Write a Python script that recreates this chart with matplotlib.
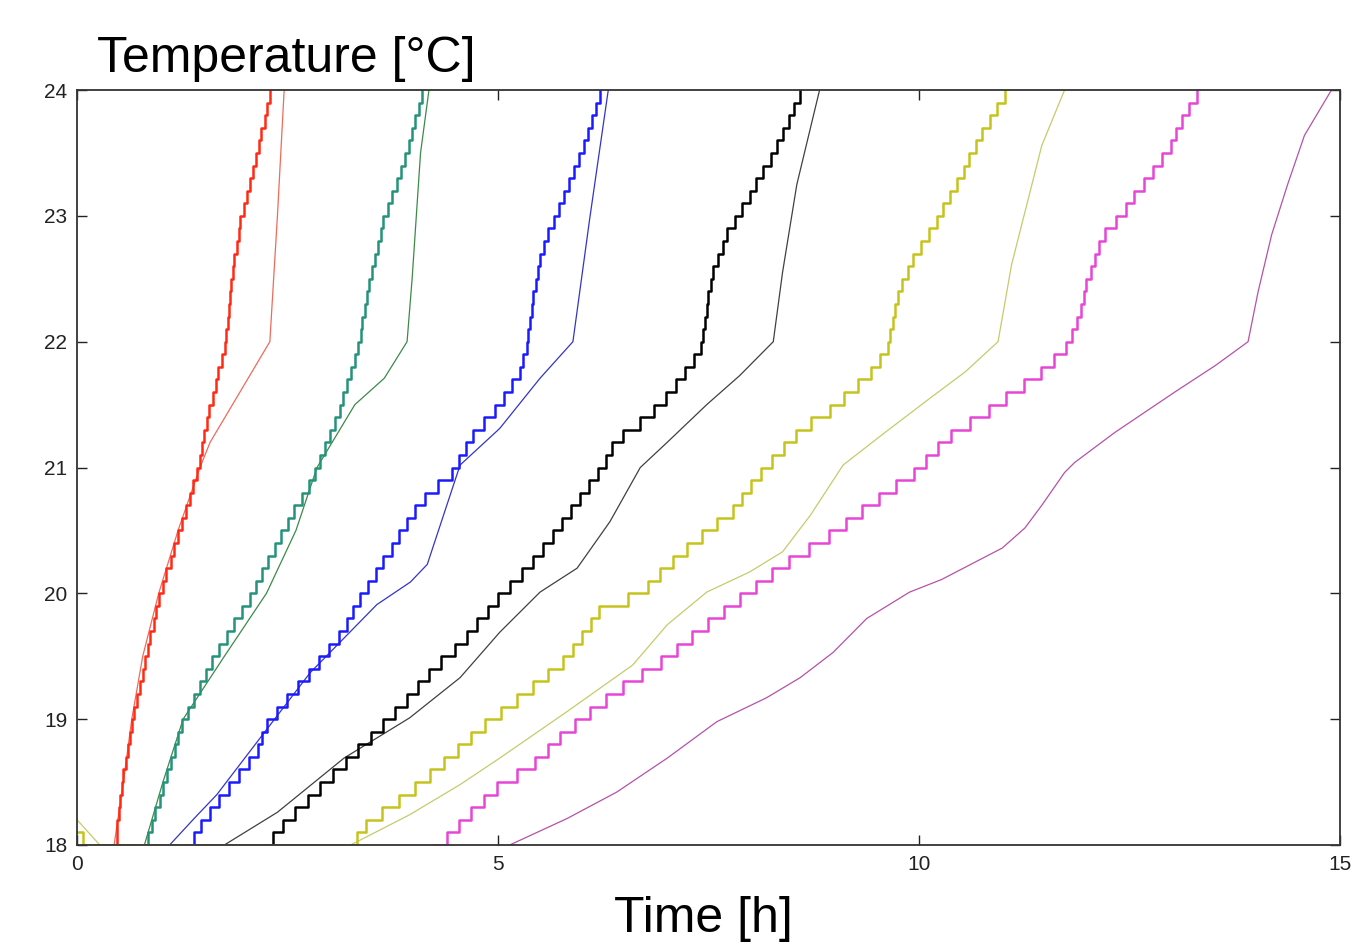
import matplotlib
matplotlib.use("Agg")
import matplotlib.pyplot as plt

plt.rcParams['font.family'] = ['Liberation Sans', 'DejaVu Sans']

# quantised sensor levels used by the measured (stepped) curves
temp_levels = [18.0, 18.1, 18.2, 18.3, 18.4, 18.5, 18.6, 18.7, 18.8, 18.9,
               19.0, 19.1, 19.2, 19.3, 19.4, 19.5, 19.6, 19.7, 19.8, 19.9,
               20.0, 20.1, 20.2, 20.3, 20.4, 20.5, 20.6, 20.7, 20.8, 20.9,
               21.0, 21.1, 21.2, 21.3, 21.4, 21.5, 21.6, 21.7, 21.8, 21.9,
               22.0, 22.1, 22.2, 22.3, 22.4, 22.5, 22.6, 22.7, 22.8, 22.9,
               23.0, 23.1, 23.2, 23.3, 23.4, 23.5, 23.6, 23.7, 23.8, 23.9,
               24.0]

# measured: time [h] at which each level above is reached
red_meas = [0.45, 0.47, 0.48, 0.50, 0.51, 0.53, 0.55, 0.58, 0.60, 0.63,
            0.65, 0.68, 0.71, 0.75, 0.78, 0.81, 0.84, 0.87, 0.91, 0.94,
            0.97, 1.02, 1.06, 1.11, 1.15, 1.20, 1.25, 1.29, 1.34, 1.38,
            1.43, 1.46, 1.49, 1.51, 1.54, 1.57, 1.61, 1.65, 1.68, 1.72,
            1.76, 1.77, 1.79, 1.80, 1.82, 1.83, 1.85, 1.87, 1.90, 1.92,
            1.94, 1.98, 2.02, 2.05, 2.09, 2.13, 2.16, 2.19, 2.23, 2.26,
            2.29]
green_meas = [0.80, 0.84, 0.89, 0.93, 0.98, 1.02, 1.07, 1.11, 1.16, 1.20,
              1.25, 1.32, 1.39, 1.46, 1.53, 1.60, 1.69, 1.78, 1.87, 1.96,
              2.05, 2.12, 2.20, 2.27, 2.35, 2.42, 2.50, 2.58, 2.67, 2.75,
              2.83, 2.89, 2.95, 3.00, 3.06, 3.12, 3.16, 3.21, 3.25, 3.30,
              3.34, 3.37, 3.39, 3.42, 3.44, 3.47, 3.50, 3.54, 3.57, 3.61,
              3.64, 3.69, 3.74, 3.80, 3.85, 3.90, 3.94, 3.98, 4.02, 4.06,
              4.10]
blue_meas = [1.33, 1.39, 1.47, 1.58, 1.69, 1.81, 1.92, 2.04, 2.15, 2.20,
             2.26, 2.38, 2.49, 2.62, 2.75, 2.87, 2.99, 3.11, 3.21, 3.28,
             3.36, 3.45, 3.55, 3.64, 3.74, 3.83, 3.92, 4.01, 4.13, 4.29,
             4.45, 4.54, 4.62, 4.70, 4.83, 4.96, 5.07, 5.17, 5.26, 5.30,
             5.34, 5.36, 5.38, 5.40, 5.42, 5.45, 5.47, 5.50, 5.55, 5.60,
             5.66, 5.72, 5.78, 5.84, 5.90, 5.96, 6.02, 6.07, 6.12, 6.16,
             6.21]
black_meas = [2.22, 2.33, 2.45, 2.59, 2.74, 2.89, 3.04, 3.19, 3.34, 3.49,
              3.63, 3.78, 3.92, 4.05, 4.18, 4.32, 4.49, 4.63, 4.75, 4.88,
              5.00, 5.14, 5.28, 5.42, 5.53, 5.65, 5.76, 5.87, 5.98, 6.08,
              6.19, 6.28, 6.36, 6.49, 6.69, 6.85, 6.99, 7.12, 7.22, 7.33,
              7.41, 7.43, 7.46, 7.48, 7.50, 7.53, 7.56, 7.61, 7.67, 7.72,
              7.81, 7.90, 7.99, 8.07, 8.15, 8.24, 8.32, 8.39, 8.46, 8.52,
              8.59]
yellow_meas = [3.21, 3.32, 3.43, 3.62, 3.82, 4.01, 4.19, 4.36, 4.52, 4.68,
               4.85, 5.03, 5.23, 5.42, 5.59, 5.77, 5.89, 6.00, 6.10, 6.20,
               6.54, 6.78, 6.93, 7.08, 7.25, 7.42, 7.60, 7.79, 7.90, 8.01,
               8.12, 8.26, 8.40, 8.54, 8.72, 8.94, 9.11, 9.28, 9.43, 9.54,
               9.63, 9.66, 9.69, 9.72, 9.75, 9.80, 9.87, 9.93, 10.02, 10.12,
               10.21, 10.29, 10.37, 10.45, 10.53, 10.60, 10.68, 10.75, 10.84, 10.93,
               11.02]
magenta_meas = [4.24, 4.39, 4.54, 4.68, 4.83, 4.99, 5.22, 5.44, 5.59, 5.74,
                5.91, 6.09, 6.28, 6.49, 6.71, 6.94, 7.13, 7.31, 7.49, 7.68,
                7.87, 8.06, 8.25, 8.46, 8.69, 8.93, 9.13, 9.32, 9.52, 9.73,
                9.94, 10.09, 10.23, 10.38, 10.61, 10.83, 11.04, 11.25, 11.45, 11.61,
                11.75, 11.82, 11.88, 11.92, 11.96, 11.99, 12.04, 12.09, 12.14, 12.21,
                12.34, 12.46, 12.56, 12.67, 12.78, 12.89, 12.99, 13.05, 13.12, 13.21,
                13.30]

# the yellow room starts slightly warm at t = 0
yellow_start_t = [0.0, 0.07]
yellow_start_T = [18.1, 18.0]

# simulated curves (time [h], temperature [C])
red_sim_t = [0.44, 0.55, 0.65, 0.78, 0.97, 1.2, 1.46, 1.58, 2.29, 2.38, 2.46]
red_sim_T = [18.0, 18.5, 19.0, 19.5, 20.0, 20.5, 21.0, 21.2, 22.0, 23.0, 24.0]
green_sim_t = [0.80, 1.02, 1.26, 1.75, 2.25, 2.6, 2.85, 3.3, 3.65, 3.92, 3.98, 4.03, 4.08, 4.18]
green_sim_T = [18.0, 18.5, 19.0, 19.5, 20.0, 20.5, 21.0, 21.5, 21.71, 22.0, 22.5, 23.0, 23.5, 24.0]
blue_sim_t = [1.10, 1.39, 1.66, 2.14, 2.77, 3.56, 3.96, 4.16, 4.55, 5.02, 5.5, 5.89, 6.09, 6.31]
blue_sim_T = [18.0, 18.21, 18.4, 18.82, 19.37, 19.91, 20.09, 20.23, 21.02, 21.31, 21.71, 22.0, 22.98, 24.0]
black_sim_t = [1.75, 2.38, 3.17, 3.95, 4.55, 5.02, 5.5, 5.94, 6.33, 6.69, 7.01, 7.48, 7.87, 8.27,
               8.38, 8.55, 8.82]
black_sim_T = [18.0, 18.26, 18.69, 19.01, 19.33, 19.69, 20.01, 20.2, 20.57, 21.0, 21.2, 21.5, 21.73,
               22.0, 22.55, 23.25, 24.0]
yellow_sim_t = [0.0, 0.27, 3.25, 3.95, 4.55, 5.02, 5.82, 6.6, 7.01, 7.48, 7.99, 8.38, 8.71, 9.10,
                9.6, 10.13, 10.55, 10.94, 11.1, 11.46, 11.73]
yellow_sim_T = [18.2, 18.0, 18.0, 18.24, 18.48, 18.69, 19.06, 19.43, 19.75, 20.01, 20.17, 20.33,
                20.62, 21.02, 21.28, 21.55, 21.76, 22.0, 22.61, 23.56, 24.0]
magenta_sim_t = [5.14, 5.82, 6.41, 7.01, 7.60, 8.19, 8.59, 8.98, 9.38, 9.89, 10.27, 10.99, 11.26,
                 11.46, 11.73, 11.85, 12.33, 13.04, 13.52, 13.91, 14.03, 14.19, 14.38, 14.58, 14.90]
magenta_sim_T = [18.0, 18.21, 18.42, 18.69, 18.98, 19.17, 19.33, 19.53, 19.80, 20.01, 20.11, 20.36,
                 20.52, 20.70, 20.96, 21.04, 21.28, 21.60, 21.81, 22.0, 22.4, 22.85, 23.25, 23.64, 24.0]

x_ticks = [0, 5, 10, 15]
y_ticks = [18, 19, 20, 21, 22, 23, 24]


fig = plt.figure(figsize=(13.52, 9.46), dpi=100)
ax = fig.add_axes([0.057, 0.1068, 0.934, 0.798])

# simulated (thin)
ax.plot(red_sim_t, red_sim_T, color='#f06a5a', lw=0.9)
ax.plot(green_sim_t, green_sim_T, color='#3c8a48', lw=0.9)
ax.plot(blue_sim_t, blue_sim_T, color='#3434c8', lw=0.9)
ax.plot(black_sim_t, black_sim_T, color='#404040', lw=0.9)
ax.plot(yellow_sim_t, yellow_sim_T, color='#c4cc6a', lw=0.9)
ax.plot(magenta_sim_t, magenta_sim_T, color='#b452a8', lw=0.9)

# measured (thick, stepped)
ax.plot(red_meas, temp_levels, color='#ff2a14', lw=1.8, drawstyle='steps-post')
ax.plot(green_meas, temp_levels, color='#25927a', lw=1.8, drawstyle='steps-post')
ax.plot(blue_meas, temp_levels, color='#1a1aff', lw=1.8, drawstyle='steps-post')
ax.plot(black_meas, temp_levels, color='#000000', lw=1.8, drawstyle='steps-post')
ax.plot(yellow_start_t + yellow_meas[1:], yellow_start_T + temp_levels[1:],
        color='#c6c41c', lw=1.8, drawstyle='steps-post')
ax.plot(magenta_meas, temp_levels, color='#e845d6', lw=1.8, drawstyle='steps-post')

ax.set_xlim(0, 15)
ax.set_ylim(18, 24)
ax.set_xticks(x_ticks)
ax.set_yticks(y_ticks)
ax.tick_params(direction='in', length=7, width=1.0, top=True, right=True,
               labelsize=15, pad=7, colors='#222222')
for s in ax.spines.values():
    s.set_linewidth(1.3)
    s.set_color('#333333')

fig.text(0.072, 0.924, 'Temperature [°C]', fontsize=36, va='baseline', ha='left')
fig.text(0.52, 0.0148, 'Time [h]', fontsize=36, va='baseline', ha='center')

fig.savefig('out.png', dpi=100)
